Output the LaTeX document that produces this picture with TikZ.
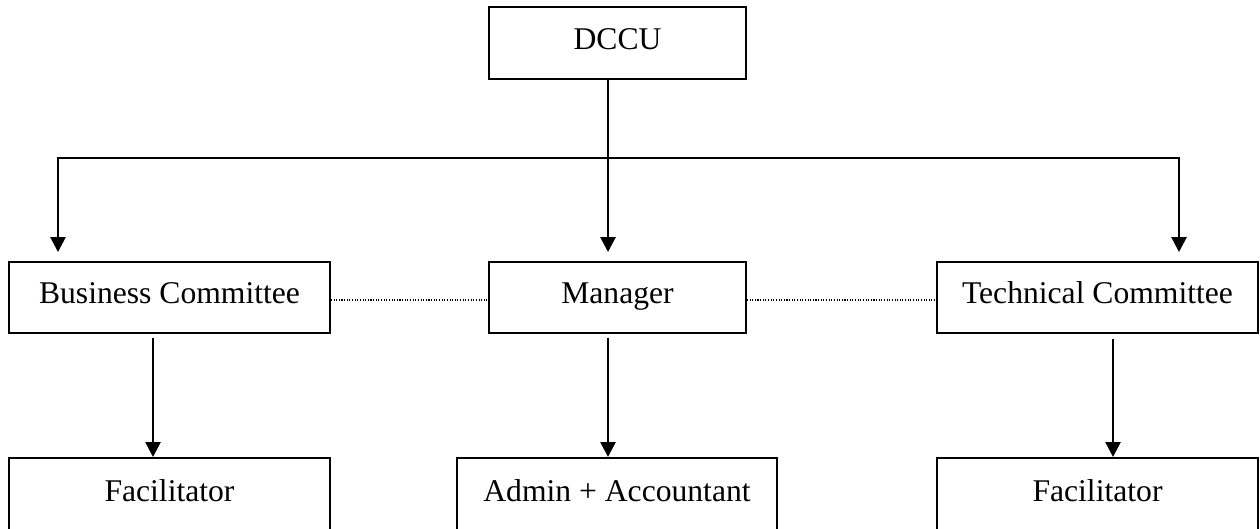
\documentclass[tikz,border=0pt]{standalone}
\usepackage{fontspec}
\setmainfont{Liberation Serif}
\usetikzlibrary{arrows.meta}

\begin{document}
\begin{tikzpicture}[x=0.02cm,y=-0.02cm,
	box_node/.style={rectangle,draw,line width=1.1pt,minimum height=1.42cm,inner sep=0pt,text height=0.42cm,text depth=0.18cm,font=\fontsize{18}{21}\selectfont},
	low_node/.style={box_node,anchor=north,minimum height=1.52cm},
	arrow_line/.style={line width=1.5pt,-{Triangle[width=0.3cm,length=0.3cm]}},
	dot_line/.style={line width=0.8pt,dash pattern=on 0.6pt off 0.9pt}]
	\path[use as bounding box,clip] (0,0) rectangle (1260,528);
	\node[box_node,minimum width=5.14cm,minimum height=1.44cm] (dccu) at (617.5,43) {DCCU};
	\node[box_node,minimum width=6.42cm] (bc) at (169.5,297.5) {Business Committee};
	\node[box_node,minimum width=5.14cm] (mgr) at (617.5,297.5) {Manager};
	\node[box_node,minimum width=6.42cm] (tc) at (1097.5,297.5) {Technical Committee};
	\node[low_node,minimum width=6.42cm] (fac_b) at (169.5,457) {Facilitator};
	\node[low_node,minimum width=6.4cm] (admin) at (617,457) {Admin + Accountant};
	\node[low_node,minimum width=6.42cm] (fac_t) at (1097.5,457) {Facilitator};
	
	\coordinate (hub) at (608,158);
	\coordinate (hub_l) at (58,158);
	\coordinate (hub_r) at (1179,158);
	
	\draw[line width=0.9pt] (dccu.south -| hub) -- (hub);
	\draw[arrow_line,shorten >=0.18cm] (hub) -- (hub_l) -- (hub_l |- bc.north);
	\draw[arrow_line,shorten >=0.18cm] (hub) -- (hub_r) -- (hub_r |- tc.north);
	\draw[arrow_line,shorten >=0.18cm] (hub) -- (hub |- mgr.north);
	
	\draw[dot_line] ([yshift=-0.05cm]bc.east) -- ([yshift=-0.05cm]mgr.west);
	\draw[dot_line] ([yshift=-0.05cm]mgr.east) -- ([yshift=-0.05cm]tc.west);
	
	\draw[arrow_line,shorten <=0.08cm] ([xshift=-0.33cm]bc.south) -- ([xshift=-0.33cm]bc.south |- fac_b.north);
	\draw[arrow_line,shorten <=0.08cm] ([xshift=-0.19cm]mgr.south) -- ([xshift=-0.19cm]mgr.south |- admin.north);
	\draw[arrow_line,shorten <=0.1cm] ([xshift=0.31cm]tc.south) -- ([xshift=0.31cm]tc.south |- fac_t.north);
\end{tikzpicture}
\end{document}
